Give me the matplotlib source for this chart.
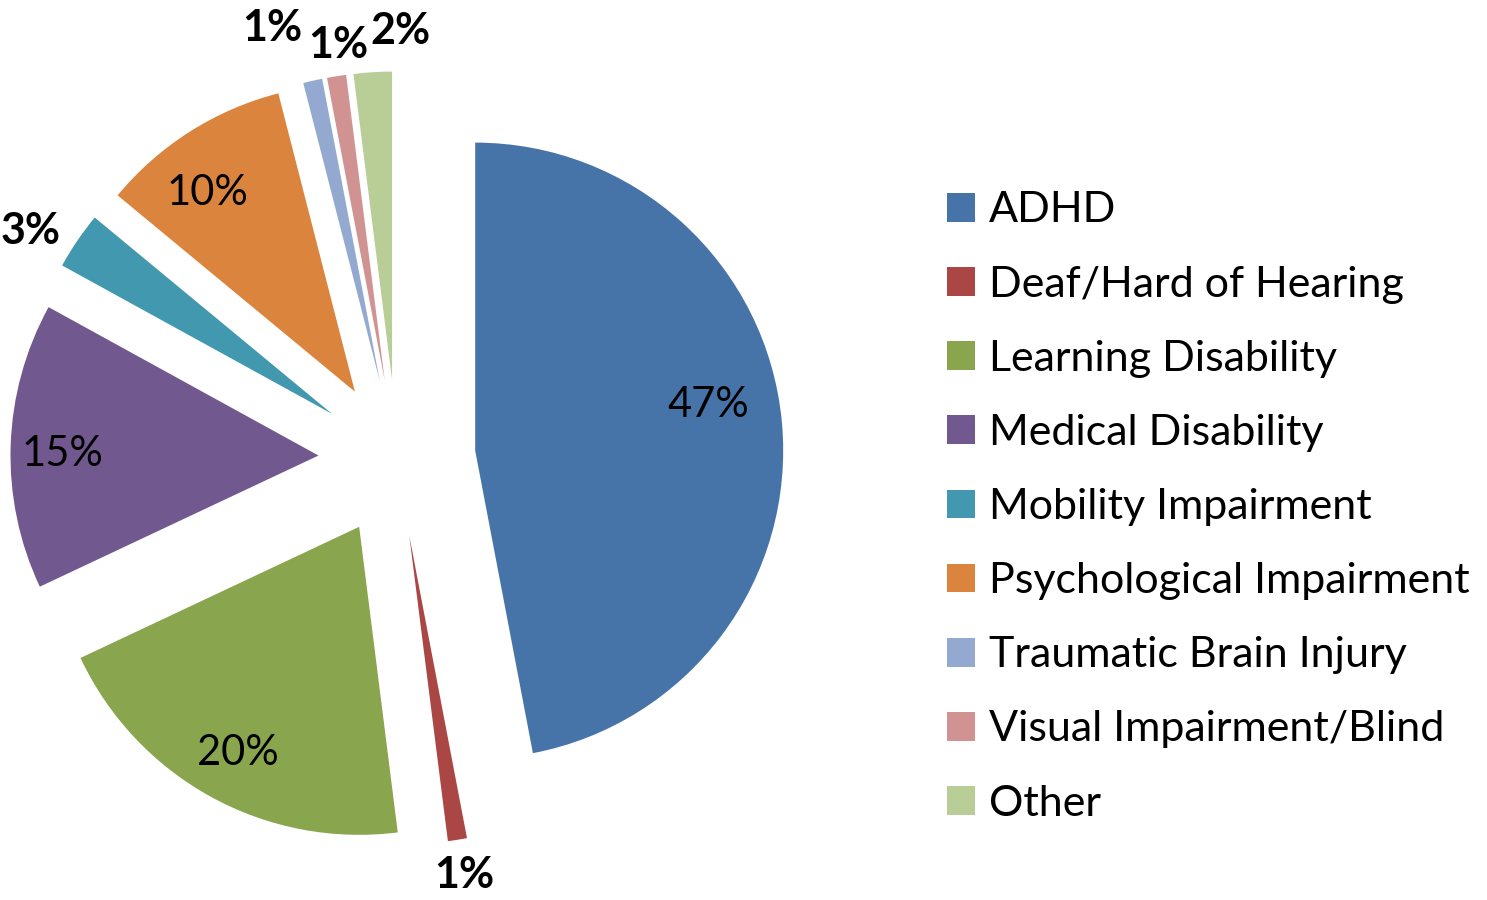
import matplotlib
matplotlib.use("Agg")
import matplotlib.pyplot as plt
import matplotlib.patches as mpatches
import numpy as np

categories = ["ADHD", "Deaf/Hard of Hearing", "Learning Disability", "Medical Disability",
              "Mobility Impairment", "Psychological Impairment", "Traumatic Brain Injury",
              "Visual Impairment/Blind", "Other"]
values = [47, 1, 20, 15, 3, 10, 1, 1, 2]
pct_labels = ["47%", "1%", "20%", "15%", "3%", "10%", "1%", "1%", "2%"]
colors = ["#4674A8", "#AA4643", "#89A54E", "#71588F", "#4198AF",
          "#DB843D", "#93A9CF", "#D19392", "#B9CD96"]

# label placement style: radius (in pie radii from pie centre), angle offset (deg), inside?
label_r = [1.024, 1.37, 1.088, 1.085, 1.40, 1.057, 1.454, 1.355, 1.387]
label_dang = [4.3, 0.2, 0.5, 1.1, 2.5, 3.1, 3.6, -0.9, -4.1]
inside = [True, False, True, True, False, True, False, False, False]

plt.rcParams['font.family'] = ['Lato', 'DejaVu Sans']

W, H = 1487, 900
R = 308.0
cx, cy = 397.0, 458.0
fig = plt.figure(figsize=(W / 100, H / 100), dpi=100)
ax = fig.add_axes([0, 0, 1, 1])
ax.axis("off")

wedges, _ = ax.pie(values, colors=colors, startangle=90, counterclock=False,
                   explode=[0.255] * len(values), radius=1.0, center=(0, 0),
                   wedgeprops=dict(linewidth=0), frame=False)
ax.set_xlim(-cx / R, (W - cx) / R)
ax.set_ylim(-(H - cy) / R, cy / R)

for i, w in enumerate(wedges):
    mid = (w.theta1 + w.theta2) / 2.0 + label_dang[i]
    x = label_r[i] * np.cos(np.radians(mid))
    y = label_r[i] * np.sin(np.radians(mid))
    ax.text(x, y, pct_labels[i], ha="center", va="center",
            fontsize=30 if inside[i] else 31,
            fontweight="normal" if inside[i] else "bold", color="black")

handles = [mpatches.Patch(facecolor=c, edgecolor="none") for c in colors]
fig.legend(handles, categories, loc="center left",
           bbox_to_anchor=(908 / W, 1 - 507 / H),
           frameon=False, fontsize=31, handlelength=0.65, handleheight=0.65,
           handletextpad=0.33, labelspacing=0.84)

fig.savefig("out.png", dpi=100)
